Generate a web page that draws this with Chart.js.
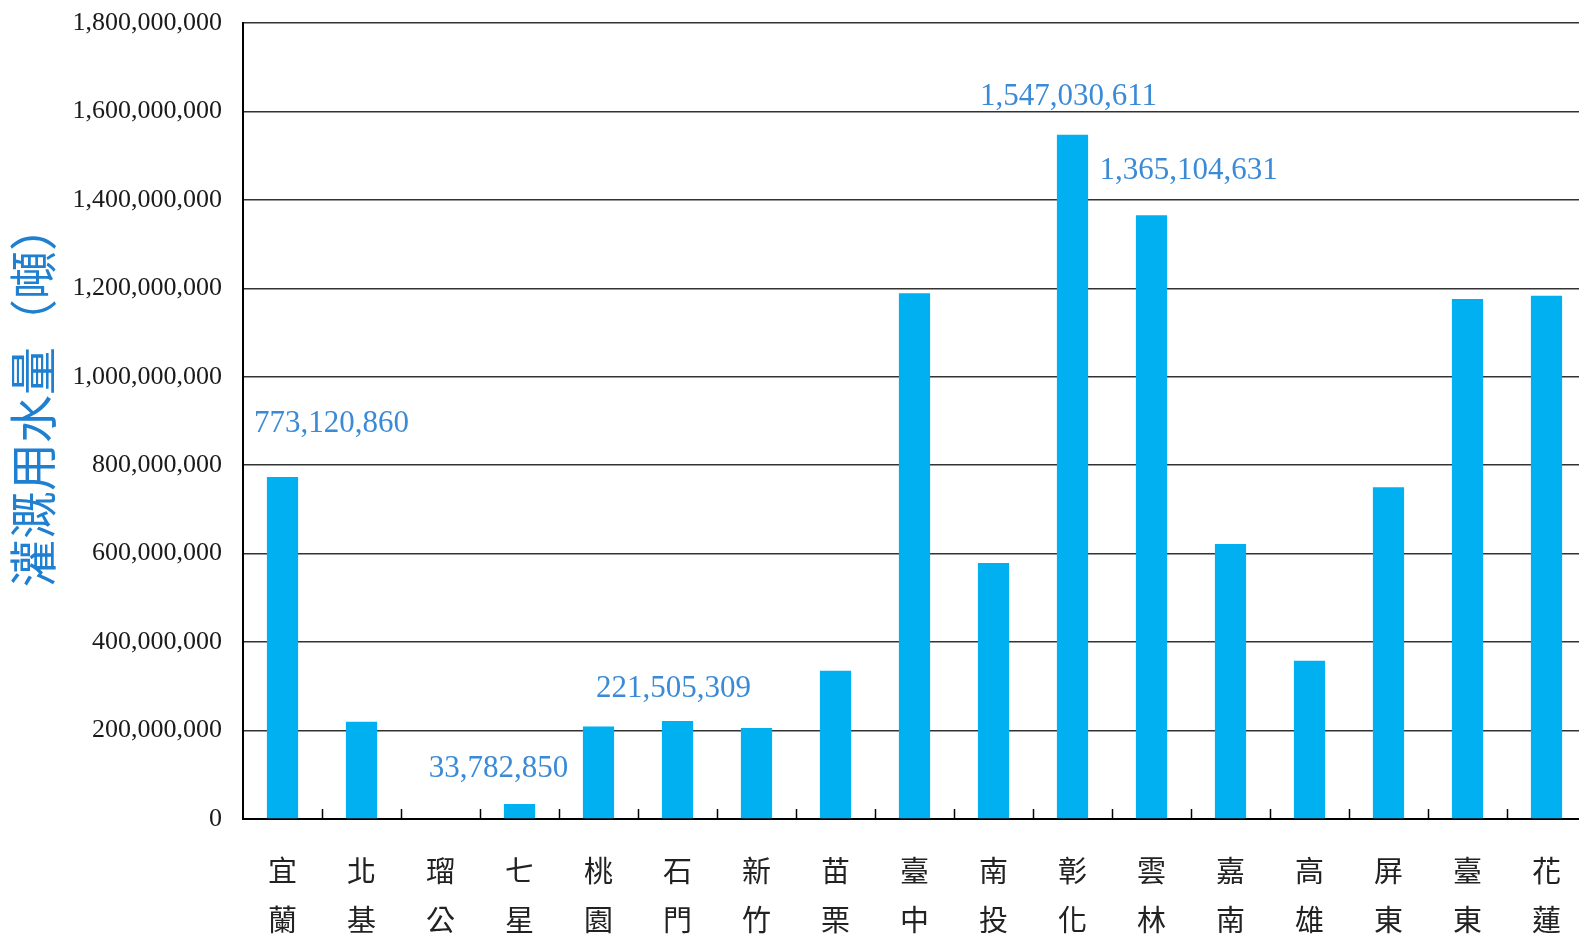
<!DOCTYPE html>
<html>
<head>
<meta charset="utf-8">
<script src="https://cdn.jsdelivr.net/npm/chart.js@4/dist/chart.umd.min.js"></script>
<style>
  html, body { margin: 0; padding: 0; background: #fff; overflow: hidden; }
  /* the plot runs a little past the right edge of the window, as in the original */
  #wrap { width: 1586px; height: 937px; }
</style>
</head>
<body>
<div id="wrap"><canvas id="waterChart"></canvas></div>
<script>
// 各水利會灌溉用水量（噸）
const regions = [
  ['宜', '蘭'], ['北', '基'], ['瑠', '公'], ['七', '星'], ['桃', '園'], ['石', '門'],
  ['新', '竹'], ['苗', '栗'], ['臺', '中'], ['南', '投'], ['彰', '化'], ['雲', '林'],
  ['嘉', '南'], ['高', '雄'], ['屏', '東'], ['臺', '東'], ['花', '蓮']
];
const waterUse = [
  773120860, 220000000, 0, 33782850, 209000000, 221505309,
  205500000, 335000000, 1189000000, 579000000, 1547030611, 1365104631,
  622000000, 358000000, 750000000, 1176000000, 1183000000
];
const labelledBars = [0, 3, 5, 10, 11];
const yTicks = [0, 200000000, 400000000, 600000000, 800000000, 1000000000,
  1200000000, 1400000000, 1600000000, 1800000000];
const yTitle = '灌溉用水量（噸）';

const fmt = v => v.toLocaleString('en-US');

// where each value label sits relative to its bar top
const labelShift = {0: [49, -53], 3: [-21, -35], 5: [-4, -32], 10: [-4, -38], 11: [37, -44]};

const extras = {
  id: 'extras',
  afterDatasetsDraw(chart) {
    const ctx = chart.ctx;
    const x = chart.scales.x, y = chart.scales.y;
    ctx.save();
    // short ticks standing up from the x axis at category borders
    ctx.strokeStyle = '#000';
    ctx.lineWidth = 1.5;
    const n = regions.length;
    for (let i = 1; i < n; i++) {
      const px = Math.round(x.left + i * x.width / n) + 0.5;
      ctx.beginPath();
      ctx.moveTo(px, y.bottom);
      ctx.lineTo(px, y.bottom - 10);
      ctx.stroke();
    }
    // value labels
    ctx.fillStyle = '#3a8ad6';
    ctx.font = '31px "Liberation Serif", serif';
    ctx.textAlign = 'center';
    ctx.textBaseline = 'middle';
    const meta = chart.getDatasetMeta(0);
    labelledBars.forEach(i => {
      const bar = meta.data[i];
      const s = labelShift[i];
      ctx.fillText(fmt(waterUse[i]), bar.x + s[0], bar.y + s[1]);
    });
    // y axis title, a little above the middle of the plot
    ctx.translate(33, (y.top + y.bottom) / 2 - 26);
    ctx.rotate(-Math.PI / 2);
    ctx.fillStyle = '#1f7fd0';
    ctx.font = '48px "Noto Sans CJK TC", sans-serif';
    ctx.fillText(yTitle, 0, 0);
    ctx.restore();
  }
};

new Chart(document.getElementById('waterChart'), {
  type: 'bar',
  data: {
    labels: regions,
    datasets: [{
      data: waterUse,
      backgroundColor: '#00B0F0',
      borderWidth: 0,
      categoryPercentage: 1,
      barPercentage: 0.395
    }]
  },
  options: {
    responsive: true,
    maintainAspectRatio: false,
    animation: false,
    layout: { padding: { top: 23, left: 0, right: 0, bottom: 0 } },
    plugins: { legend: { display: false }, tooltip: { enabled: false } },
    scales: {
      x: {
        grid: { display: false, drawTicks: false },
        border: { display: true, color: '#000', width: 2 },
        ticks: {
          color: '#222',
          padding: 28,
          maxRotation: 0,
          autoSkip: false,
          font: { family: '"Noto Sans CJK TC", "Noto Sans CJK SC", sans-serif', size: 29, lineHeight: 1.68 }
        },
        afterFit(scale) {
          scale.height = 118;
          scale.paddingLeft = 0;
          scale.paddingRight = 0;
        }
      },
      y: {
        min: 0,
        max: 1800000000,
        afterBuildTicks(scale) { scale.ticks = yTicks.map(v => ({ value: v })); },
        grid: { color: '#333', lineWidth: 1.5, drawTicks: false },
        border: { display: true, color: '#000', width: 2 },
        ticks: {
          color: '#1a1a1a',
          padding: 21,
          font: { family: '"Liberation Serif", serif', size: 26 },
          callback: v => fmt(v)
        },
        afterFit(scale) {
          scale.width = 243;
          scale.paddingTop = 0;
          scale.paddingBottom = 0;
        }
      }
    }
  },
  plugins: [extras]
});
</script>
</body>
</html>
